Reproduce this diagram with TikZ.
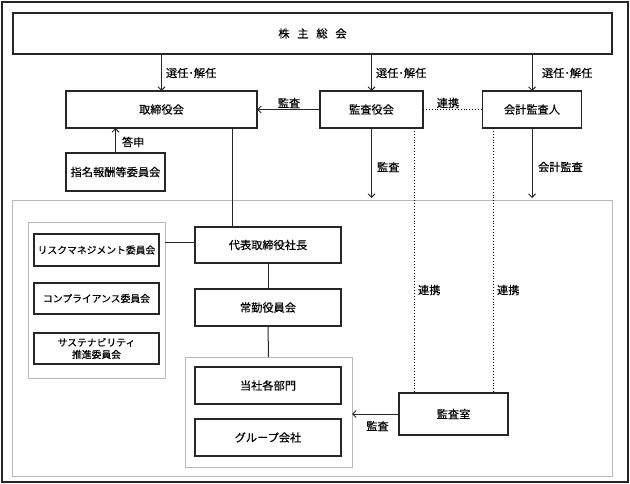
\documentclass[tikz,border=0pt]{standalone}
\usepackage{fontspec}
\newfontfamily\jp[FakeBold=0.35]{Noto Sans CJK JP}
\usetikzlibrary{arrows.meta}
\begin{document}
\begin{tikzpicture}[x=1bp,y=-1bp,
  every node/.style={font=\jp\fontsize{11.2bp}{13bp}\selectfont, inner sep=0pt, outer sep=0pt},
  small/.style={font=\jp\fontsize{9.8bp}{12bp}\selectfont},
  box/.style={draw=black!85, line width=1.1bp, fill=white, align=center},
  gframe/.style={draw=black!28, line width=1bp},
  arr/.style={line width=1bp, draw=black!85, -{Straight Barb[length=3.5bp,width=7bp]}},
  ln/.style={line width=1bp, draw=black!85},
  dl/.style={dotted, line width=0.9bp}]
\useasboundingbox (0,0) rectangle (630,484);
\draw[line width=1.3bp, draw=black!85] (2,2) rectangle (628,482);
% frames
\node[gframe, minimum width=599bp, minimum height=275bp] (inner) at (312.5,338.5) {};
\node[gframe, minimum width=136bp, minimum height=155bp] (comm) at (97,300.5) {};
\node[gframe, minimum width=167bp, minimum height=110bp] (dept) at (268.5,412) {};
% boxes
\node[box, minimum width=599bp, minimum height=41bp] (kabu) at (312.5,33.5) {株\hspace{0.7em}主\hspace{0.7em}総\hspace{0.7em}会};
\node[box, minimum width=191bp, minimum height=37bp] (tori) at (161.5,109.5) {取締役会};
\node[box, minimum width=103bp, minimum height=37bp] (kansa) at (371.5,109.5) {監査役会};
\node[box, minimum width=99bp, minimum height=37bp] (kaikei) at (532,109.5) {会計監査人};
\node[box, minimum width=99bp, minimum height=38bp] (shimei) at (115.5,172) {指名報酬等委員会};
\node[box, minimum width=146bp, minimum height=36bp] (daihyo) at (268,245) {代表取締役社長};
\node[box, minimum width=146bp, minimum height=37bp] (joukin) at (268,307.5) {常勤役員会};
\node[box, minimum width=146bp, minimum height=37bp] (tousha) at (268,385.5) {当社各部門};
\node[box, minimum width=146bp, minimum height=37bp] (grp) at (268,437.5) {グループ会社};
\node[box, minimum width=109bp, minimum height=42bp] (kshitsu) at (453.5,414) {監査室};
\node[box, small, minimum width=125bp, minimum height=32bp] (risk) at (96.5,250) {リスクマネジメント委員会};
\node[box, small, minimum width=125bp, minimum height=31bp] (comp) at (96.5,298.5) {コンプライアンス委員会};
\node[box, small, minimum width=125bp, minimum height=31bp] (sust) at (96.5,348.5) {サステナビリティ\\推進委員会};
% helper x positions
\coordinate (c1) at (232,0);
\coordinate (c2) at (414.5,0);
\coordinate (c3) at (493,0);
% connectors
\draw[arr] (kabu.south -| tori.north) -- (tori.north);
\draw[arr] (kabu.south -| kansa.north) -- (kansa.north);
\draw[arr] (kabu.south -| kaikei.north) -- (kaikei.north);
\draw[arr] (kansa.west) -- (tori.east);
\draw[dl] (kansa.east) -- (kaikei.west);
\draw[arr] (shimei.north) -- (tori.south -| shimei.north);
\draw[ln] (tori.south -| c1) -- (daihyo.north -| c1);
\draw[arr] (kansa.south) -- ([yshift=3bp]inner.north -| kansa.south);
\draw[arr] (kaikei.south) -- ([yshift=3bp]inner.north -| kaikei.south);
\draw[dl] (kansa.south -| c2) -- (kshitsu.north -| c2);
\draw[dl] (kaikei.south -| c3) -- (kshitsu.north -| c3);
\draw[ln] ([yshift=3bp]daihyo.west) -- ([yshift=3bp]daihyo.west -| comm.east);
\draw[ln] (daihyo.south) -- (joukin.north);
\draw[ln] (joukin.south) -- (dept.north);
\draw[arr] (kshitsu.west) -- (kshitsu.west -| dept.east);
% labels
\node[anchor=west] (l1) at (166,73) {選任･解任};
\node[anchor=west] (l2) at (376,73) {選任･解任};
\node[anchor=west] (l3) at (542,73) {選任･解任};
\node (l4) at (289,103) {監査};
\node (l5) at (448,103) {連携};
\node[anchor=west] (l6) at (122,142) {答申};
\node[anchor=west] (l7) at (377,167) {監査};
\node[anchor=west] (l8) at (538,167) {会計監査};
\node[anchor=west] (l9) at (418,290) {連携};
\node[anchor=west] (l10) at (497,290) {連携};
\node (l11) at (377.5,426) {監査};
\end{tikzpicture}
\end{document}
